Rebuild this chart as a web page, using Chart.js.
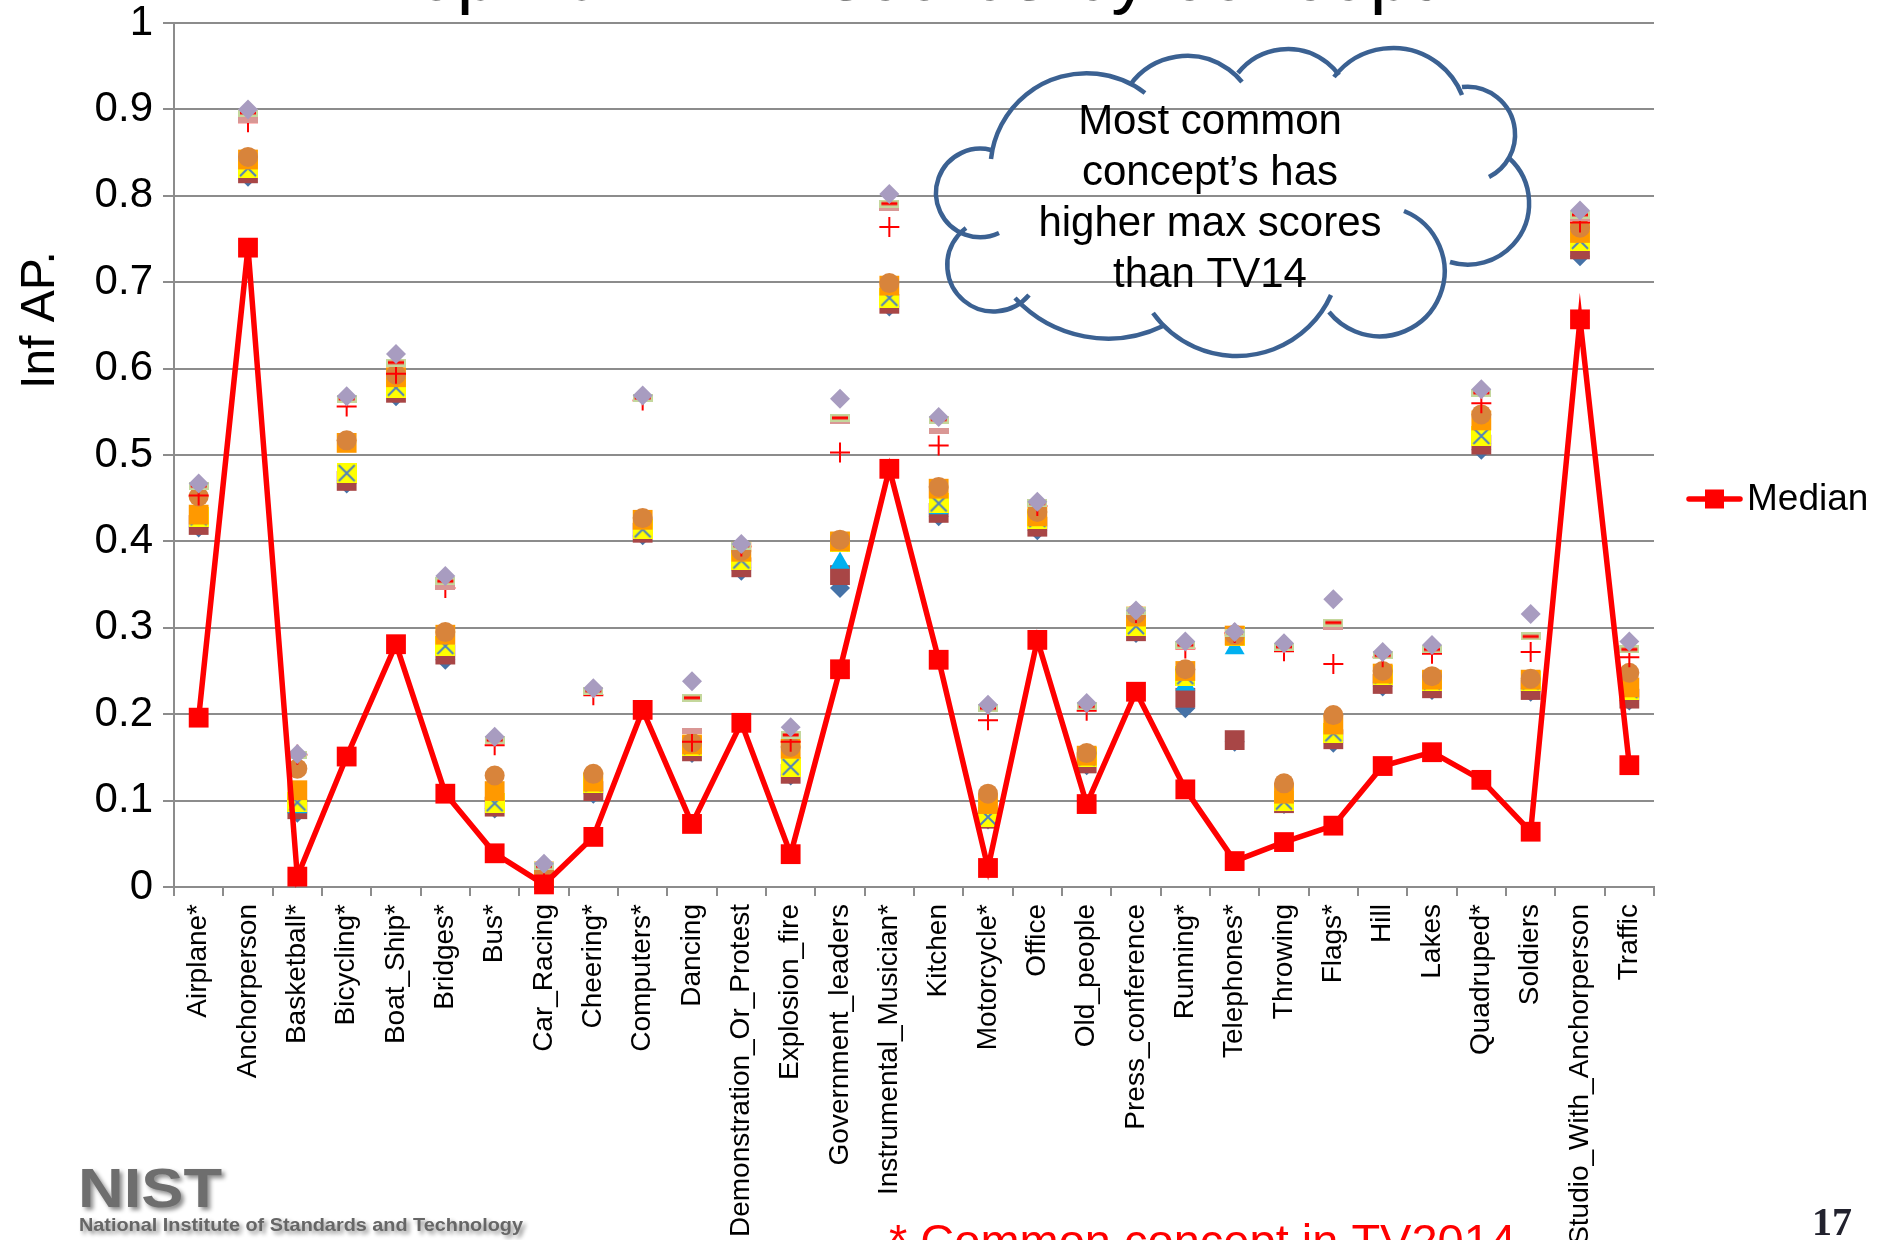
<!DOCTYPE html>
<html>
<head>
<meta charset="utf-8">
<script src="https://cdn.jsdelivr.net/npm/chart.js@4.4.1/dist/chart.umd.min.js"></script>
<style>
  html, body { margin: 0; padding: 0; background: #ffffff; overflow: hidden; }
  canvas { display: block; }
</style>
</head>
<body>
<canvas id="chart" width="1877" height="1240"></canvas>
<script>
// ---- data ----------------------------------------------------------------
const categories = [
  'Airplane*', 'Anchorperson', 'Basketball*', 'Bicycling*', 'Boat_Ship*', 'Bridges*', 'Bus*',
  'Car_Racing', 'Cheering*', 'Computers*', 'Dancing', 'Demonstration_Or_Protest', 'Explosion_fire',
  'Government_leaders', 'Instrumental_Musician*', 'Kitchen', 'Motorcycle*', 'Office', 'Old_people',
  'Press_conference', 'Running*', 'Telephones*', 'Throwing', 'Flags*', 'Hill', 'Lakes', 'Quadruped*',
  'Soldiers', 'Studio_With_Anchorperson', 'Traffic'
];

// Top 10 run scores per concept, from best (rank1) to 10th (rank10)
const rank1  = [0.467,0.900,0.154,0.568,0.617,0.360,0.174,0.027,0.230,0.569,0.238,0.397,0.185,0.565,0.802,0.544,0.211,0.446,0.213,0.320,0.284,0.295,0.282,0.333,0.272,0.280,0.576,0.316,0.783,0.284];
const rank2  = [0.464,0.896,0.153,0.565,0.607,0.354,0.170,0.024,0.227,0.566,0.219,0.395,0.176,0.543,0.791,0.541,0.207,0.444,0.209,0.319,0.280,0.294,0.278,0.306,0.268,0.275,0.572,0.290,0.778,0.275];
const rank3  = [0.464,0.888,0.153,0.565,0.607,0.347,0.170,0.024,0.227,0.566,0.181,0.395,0.176,0.539,0.786,0.528,0.207,0.444,0.209,0.319,0.280,0.294,0.278,0.301,0.268,0.275,0.572,0.290,0.774,0.275];
const rank4  = [0.453,0.885,0.153,0.556,0.594,0.346,0.164,0.022,0.222,0.563,0.168,0.394,0.168,0.503,0.764,0.511,0.193,0.441,0.204,0.317,0.276,0.294,0.273,0.258,0.266,0.270,0.560,0.272,0.769,0.266];
const rank5  = [0.452,0.845,0.137,0.517,0.593,0.295,0.129,0.020,0.131,0.427,0.167,0.389,0.162,0.402,0.699,0.463,0.108,0.434,0.155,0.316,0.252,0.292,0.120,0.199,0.250,0.244,0.547,0.241,0.763,0.248];
const rank6  = [0.431,0.842,0.112,0.514,0.590,0.292,0.111,0.018,0.122,0.425,0.165,0.388,0.160,0.400,0.696,0.461,0.096,0.429,0.152,0.313,0.250,0.291,0.108,0.188,0.247,0.240,0.540,0.240,0.757,0.231];
const rank7  = [0.428,0.832,0.098,0.479,0.578,0.279,0.097,0.014,0.120,0.414,0.163,0.378,0.139,0.399,0.682,0.444,0.081,0.426,0.150,0.302,0.244,0.290,0.099,0.178,0.245,0.238,0.522,0.238,0.748,0.228];
const rank8  = [0.424,0.829,0.092,0.477,0.576,0.275,0.095,0.012,0.118,0.412,0.161,0.376,0.137,0.375,0.678,0.438,0.080,0.424,0.148,0.300,0.234,0.276,0.098,0.176,0.243,0.236,0.520,0.236,0.744,0.226];
const rank9  = [0.419,0.826,0.090,0.470,0.572,0.269,0.093,0.008,0.111,0.410,0.157,0.370,0.131,0.361,0.675,0.433,0.079,0.417,0.143,0.296,0.219,0.170,0.097,0.171,0.235,0.230,0.512,0.228,0.738,0.218];
const rank10 = [0.416,0.822,0.086,0.467,0.568,0.263,0.091,0.006,0.108,0.407,0.155,0.366,0.129,0.346,0.672,0.429,0.078,0.413,0.141,0.294,0.207,0.168,0.096,0.167,0.232,0.228,0.506,0.226,0.730,0.216];
const median = [0.196,0.740,0.012,0.151,0.281,0.108,0.039,0.003,0.058,0.205,0.073,0.190,0.038,0.252,0.484,0.263,0.022,0.286,0.096,0.226,0.113,0.030,0.052,0.071,0.140,0.156,0.124,0.064,0.657,0.141];

const yTickLabels = ['0', '0.1', '0.2', '0.3', '0.4', '0.5', '0.6', '0.7', '0.8', '0.9', '1'];

const titleText = 'Top 10 InfAP scores by concept';
const yAxisTitle = 'Inf AP.';
const legendLabel = 'Median';
const cloudLines = ['Most common', 'concept\u2019s has', 'higher max scores', 'than TV14'];
const footnote = '* Common concept in TV2014';
const pageNumber = '17';

// ---- styles --------------------------------------------------------------
const FONT = '"Liberation Sans", Arial, Helvetica, sans-serif';
const GRID = '#8C8C8C';

function makeMarker(w, h, paint) {
  const c = document.createElement('canvas');
  c.width = w; c.height = h;
  paint(c.getContext('2d'), w, h);
  return c;
}
const yellowCross = makeMarker(20, 20, (g, w, h) => {
  g.fillStyle = '#FFFF00'; g.fillRect(0, 0, w, h);
  g.strokeStyle = '#4F81BD'; g.lineWidth = 2;
  g.beginPath(); g.moveTo(2, 2); g.lineTo(w - 2, h - 2); g.moveTo(w - 2, 2); g.lineTo(2, h - 2); g.stroke();
});
const pinkDash = makeMarker(20, 6, (g, w, h) => { g.fillStyle = '#D99795'; g.fillRect(0, 0, w, h); });
const greenDash = makeMarker(20, 8, (g, w, h) => {
  g.fillStyle = '#C4D79C'; g.fillRect(0, 0, w, h);
  g.fillStyle = '#FF0000'; g.fillRect(2, 2.5, w - 4, 3);
});

const seriesStyles = [
  { data: rank1,  style: 'rectRot',   radius: 10, color: '#A89CC0' },
  { data: rank2,  style: greenDash,   radius: 10, color: '#C4D79C' },
  { data: rank3,  style: pinkDash,    radius: 10, color: '#D99795' },
  { data: rank4,  style: 'cross',     radius: 10, color: '#FF0000', border: 2 },
  { data: rank5,  style: 'circle',    radius: 10, color: '#D8843B' },
  { data: rank6,  style: 'rect',      radius: 14, color: '#FF9900' },
  { data: rank7,  style: yellowCross, radius: 10, color: '#FFFF00' },
  { data: rank8,  style: 'triangle',  radius: 11.5, color: '#00B0F0' },
  { data: rank9,  style: 'rect',      radius: 14, color: '#A84646' },
  { data: rank10, style: 'rectRot',   radius: 10, color: '#4572A7' }
];

const datasets = seriesStyles.map((s, i) => ({
  label: 'rank' + (i + 1),
  data: s.data,
  showLine: false,
  pointStyle: s.style,
  pointRadius: s.radius,
  pointHoverRadius: s.radius,
  pointBackgroundColor: s.color,
  pointBorderColor: s.color,
  pointBorderWidth: s.border || 0,
  clip: false,
  order: i + 1
}));

datasets.push({
  label: legendLabel,
  data: median,
  borderColor: '#FF0000',
  borderWidth: 5.5,
  tension: 0,
  pointStyle: 'rect',
  pointRadius: 14,
  pointHoverRadius: 14,
  pointBackgroundColor: '#FF0000',
  pointBorderColor: '#FF0000',
  pointBorderWidth: 0,
  clip: false,
  order: 0
});

// ---- annotations drawn around the plot ------------------------------------
function arcThrough(g, p1, p2, p3) {
  const [x1, y1] = p1, [x2, y2] = p2, [x3, y3] = p3;
  const d = 2 * (x1 * (y2 - y3) + x2 * (y3 - y1) + x3 * (y1 - y2));
  const s1 = x1 * x1 + y1 * y1, s2 = x2 * x2 + y2 * y2, s3 = x3 * x3 + y3 * y3;
  const cx = (s1 * (y2 - y3) + s2 * (y3 - y1) + s3 * (y1 - y2)) / d;
  const cy = (s1 * (x3 - x2) + s2 * (x1 - x3) + s3 * (x2 - x1)) / d;
  const r = Math.hypot(x1 - cx, y1 - cy);
  const a1 = Math.atan2(y1 - cy, x1 - cx);
  const a2 = Math.atan2(y2 - cy, x2 - cx);
  const a3 = Math.atan2(y3 - cy, x3 - cx);
  const norm = a => ((a % (2 * Math.PI)) + 2 * Math.PI) % (2 * Math.PI);
  const clockwise = norm(a2 - a1) < norm(a3 - a1);
  g.beginPath();
  g.arc(cx, cy, r, a1, a3, !clockwise);
  g.stroke();
}

const cloudArcs = [
  [[991, 159], [1060, 77], [1145, 93]],
  [[1130, 85], [1183, 56], [1242, 82]],
  [[1238, 73], [1288, 49], [1339, 75]],
  [[1334, 77], [1394, 48], [1462, 95]],
  [[1462, 87], [1515, 137], [1489, 177]],
  [[1509, 158], [1529, 200], [1450, 262]],
  [[1404, 211], [1444, 280], [1329, 312]],
  [[1331, 295], [1238, 356], [1153, 313]],
  [[1163, 326], [1088, 337], [1015, 298]],
  [[1029, 295], [948, 257], [966, 228]],
  [[999, 233], [936, 193], [991, 150]]
];

const decorations = {
  id: 'decorations',
  afterDraw(chart) {
    const g = chart.ctx;
    g.save();

    // title (runs off the top edge)
    g.fillStyle = '#000000';
    g.font = `75px ${FONT}`;
    g.textAlign = 'center';
    g.textBaseline = 'alphabetic';
    g.fillText(titleText, 905, 0);

    // y axis title
    g.save();
    g.translate(54, 320);
    g.rotate(-Math.PI / 2);
    g.font = `48px ${FONT}`;
    g.textAlign = 'center';
    g.textBaseline = 'alphabetic';
    g.fillText(yAxisTitle, 0, 0);
    g.restore();

    // legend
    g.strokeStyle = '#FF0000';
    g.lineWidth = 5.5;
    g.lineCap = 'round';
    g.beginPath(); g.moveTo(1689, 499); g.lineTo(1740, 499); g.stroke();
    g.fillStyle = '#FF0000';
    g.fillRect(1705, 489.5, 19, 19);
    g.fillStyle = '#000000';
    g.font = `37px ${FONT}`;
    g.textAlign = 'left';
    g.textBaseline = 'middle';
    g.fillText(legendLabel, 1747, 500);

    // cloud callout
    g.strokeStyle = '#3B6192';
    g.lineWidth = 4.5;
    g.lineCap = 'butt';
    cloudArcs.forEach(a => arcThrough(g, a[0], a[1], a[2]));
    g.fillStyle = '#000000';
    g.font = `42px ${FONT}`;
    g.textAlign = 'center';
    g.textBaseline = 'alphabetic';
    cloudLines.forEach((t, i) => g.fillText(t, 1210, 134 + i * 51));

    // logo
    g.save();
    g.shadowColor = 'rgba(0,0,0,0.45)';
    g.shadowBlur = 4;
    g.shadowOffsetX = 3;
    g.shadowOffsetY = 3;
    g.fillStyle = '#6E6E6E';
    g.font = `bold 56px ${FONT}`;
    g.textAlign = 'left';
    g.textBaseline = 'alphabetic';
    let w = g.measureText('NIST').width;
    g.save(); g.translate(78, 1207); g.scale(144 / w, 1); g.fillText('NIST', 0, 0); g.restore();
    g.fillStyle = '#666666';
    g.font = `bold 19px ${FONT}`;
    const sub = 'National Institute of Standards and Technology';
    w = g.measureText(sub).width;
    g.save(); g.translate(79, 1231); g.scale(444 / w, 1); g.fillText(sub, 0, 0); g.restore();
    g.restore();

    // footnote
    g.fillStyle = '#FF0000';
    g.font = `47px ${FONT}`;
    g.textAlign = 'left';
    g.textBaseline = 'alphabetic';
    g.fillText(footnote, 889, 1257);

    // page number
    g.fillStyle = '#22222E';
    g.font = 'bold 40px "Liberation Serif", "Times New Roman", serif';
    g.fillText(pageNumber, 1812, 1235);

    g.restore();
  }
};

// ---- chart -----------------------------------------------------------------
new Chart(document.getElementById('chart'), {
  type: 'line',
  data: { labels: categories, datasets },
  options: {
    responsive: false,
    animation: false,
    devicePixelRatio: 1,
    layout: { padding: { top: 23, right: 223, bottom: 0, left: 0 } },
    plugins: { legend: { display: false }, tooltip: { enabled: false } },
    scales: {
      x: {
        type: 'category',
        offset: true,
        grid: { offset: true, drawOnChartArea: false, drawTicks: true, tickLength: 9, color: GRID, lineWidth: 2 },
        border: { display: true, color: GRID, width: 2 },
        ticks: {
          autoSkip: false, maxRotation: 90, minRotation: 90, padding: 8,
          color: '#000000', font: { family: FONT, size: 28 }
        },
        afterFit(scale) { scale.height = 353; scale.paddingLeft = 0; scale.paddingRight = 0; }
      },
      y: {
        min: 0, max: 1,
        grid: { color: GRID, lineWidth: 2, tickLength: 11, drawTicks: true },
        border: { display: true, color: GRID, width: 2 },
        ticks: {
          stepSize: 0.1, padding: 10, color: '#000000',
          font: { family: FONT, size: 42, lineHeight: 1 },
          callback: (value, index) => yTickLabels[index]
        },
        afterFit(scale) { scale.width = 174; scale.paddingTop = 0; scale.paddingBottom = 0; }
      }
    }
  },
  plugins: [decorations]
});
</script>
</body>
</html>
